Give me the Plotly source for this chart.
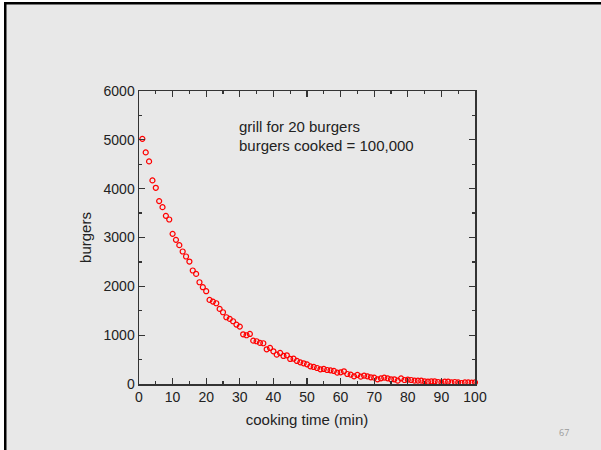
import plotly.graph_objects as go

cooking_time = list(range(1, 101))
burgers = [
    5020, 4743, 4558, 4169, 4018, 3745, 3622, 3444, 3369, 3075,
    2952, 2843, 2713, 2611, 2508, 2324, 2255, 2084, 1982, 1900,
    1722, 1688, 1654, 1538, 1469, 1367, 1333, 1285, 1216, 1175,
    1018, 998, 1025, 888, 875, 841, 834, 711, 738, 670,
    601, 636, 574, 588, 513, 519, 472, 444, 424, 403,
    362, 349, 328, 301, 308, 287, 280, 267, 232, 239,
    260, 205, 191, 157, 185, 150, 171, 157, 137, 130,
    96, 116, 130, 116, 96, 96, 68, 116, 82, 89,
    82, 68, 68, 68, 55, 48, 55, 55, 41, 34,
    48, 48, 34, 41, 34, 20, 34, 34, 27, 34,
]
x_ticks = [0, 10, 20, 30, 40, 50, 60, 70, 80, 90, 100]
y_ticks = [0, 1000, 2000, 3000, 4000, 5000, 6000]
note_lines = ["grill for 20 burgers", "burgers cooked = 100,000"]
page_number = "67"

W, H = 601, 450
L, R, T, B = 139, 475, 91, 384


def px(x):
    return (x - L) / (R - L)


def py(y):
    return (B - y) / (B - T)


font = "Liberation Sans, Arial, sans-serif"
fig = go.Figure()
fig.add_trace(go.Scatter(
    x=cooking_time, y=burgers, mode="markers",
    marker=dict(symbol="circle-open", size=5, color="#ff0000", line=dict(width=1.2, color="#ff0000")),
    cliponaxis=False, showlegend=False, hoverinfo="skip",
))

axis_common = dict(
    showgrid=False, zeroline=False, showline=True, linecolor="#333333", linewidth=1.5,
    mirror="ticks", ticks="inside", ticklen=6, tickwidth=1.2, tickcolor="#333333",
    tickfont=dict(family=font, size=14, color="#222222"),
)
fig.update_xaxes(
    range=[0, 100], tickvals=x_ticks, ticktext=[str(v) for v in x_ticks],
    minor=dict(dtick=5, ticks="inside", ticklen=3, tickcolor="#333333", tickwidth=1.2),
    title=dict(text="cooking time (min)", font=dict(family=font, size=15, color="#222222"), standoff=10),
    **axis_common,
)
fig.update_yaxes(
    range=[0, 6000], tickvals=y_ticks, ticktext=[str(v) for v in y_ticks],
    minor=dict(dtick=500, ticks="inside", ticklen=3, tickcolor="#333333", tickwidth=1.2),
    title=dict(text="burgers", font=dict(family=font, size=15, color="#222222"), standoff=8),
    **axis_common,
)

for txt, yv in zip(note_lines, [5263, 4874]):
    fig.add_annotation(x=29.2, y=yv, xref="x", yref="y", text=txt, showarrow=False,
                       xanchor="left", yanchor="middle",
                       font=dict(family=font, size=15, color="#222222"))

fig.add_annotation(x=px(564), y=py(432), xref="paper", yref="paper", text=page_number,
                   showarrow=False, xanchor="center", yanchor="middle",
                   font=dict(family="Open Sans, sans-serif", size=9, color="#9a9a9a"))

shapes = [
    dict(type="rect", xref="paper", yref="paper", x0=px(-5), x1=px(4), y0=py(460), y1=py(-5),
         fillcolor="white", line=dict(width=0), layer="above"),
    dict(type="rect", xref="paper", yref="paper", x0=px(-5), x1=px(610), y0=py(2), y1=py(-5),
         fillcolor="white", line=dict(width=0), layer="above"),
    dict(type="rect", xref="paper", yref="paper", x0=px(4), x1=px(6.5), y0=py(460), y1=py(2),
         fillcolor="black", line=dict(width=0), layer="above"),
    dict(type="rect", xref="paper", yref="paper", x0=px(4), x1=px(610), y0=py(4.5), y1=py(2),
         fillcolor="black", line=dict(width=0), layer="above"),
]

fig.update_layout(
    width=W, height=H,
    margin=dict(l=L, r=W - R, t=T, b=H - B),
    paper_bgcolor="#e8e8e8", plot_bgcolor="#e8e8e8",
    shapes=shapes, hovermode=False,
)
fig.write_html("out.html", config={"displayModeBar": False, "staticPlot": True},
               post_script="document.body.style.margin='0';document.body.style.overflow='hidden';")
